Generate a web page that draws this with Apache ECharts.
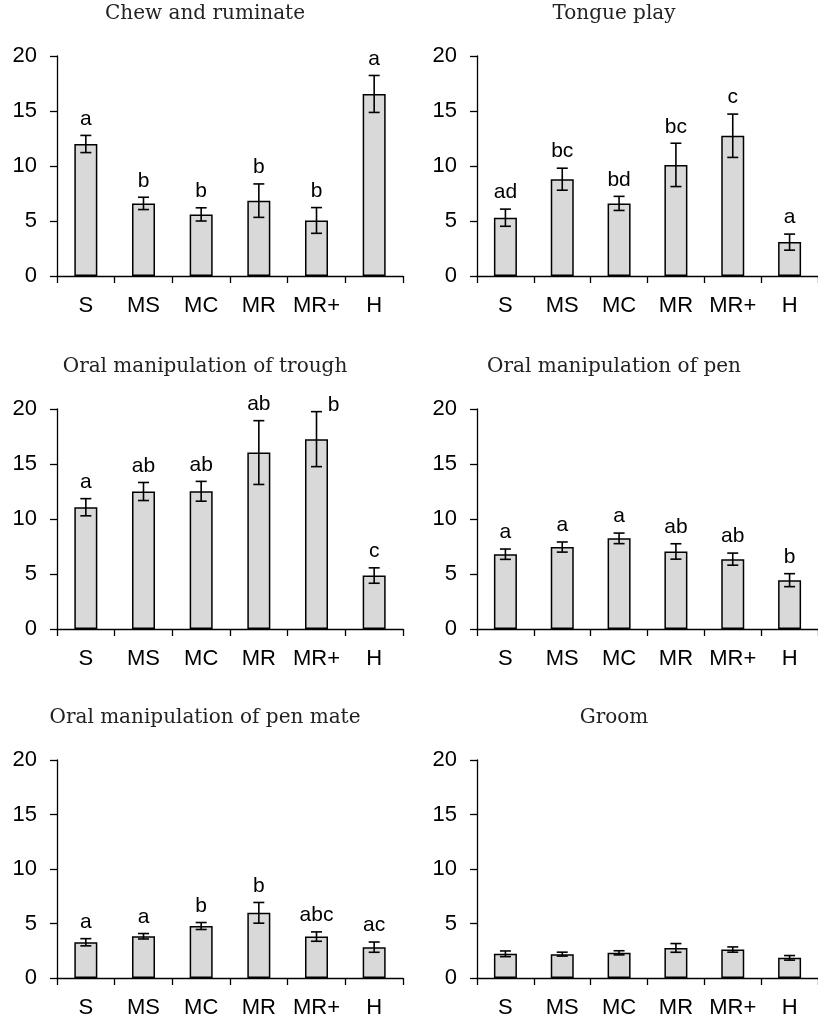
<!DOCTYPE html>
<html>
<head>
<meta charset="utf-8">
<script src="https://cdn.jsdelivr.net/npm/echarts@6/dist/echarts.min.js"></script>
<style>
html,body{margin:0;padding:0;background:#fff;}
#main{width:818px;height:1019px;}
</style>
</head>
<body>
<div id="main"></div>
<script>
// ---- data ----
var categories = ['S', 'MS', 'MC', 'MR', 'MR+', 'H'];
var yTicks = [0, 5, 10, 15, 20];

var titles = ['Chew and ruminate', 'Tongue play', 'Oral manipulation of trough',
              'Oral manipulation of pen', 'Oral manipulation of pen mate', 'Groom'];

var chewMean = [12.0, 6.6, 5.6, 6.85, 5.05, 16.55];
var chewErr = [0.78, 0.56, 0.6, 1.52, 1.17, 1.68];
var chewLetters = ['a', 'b', 'b', 'b', 'b', 'a'];

var tongueMean = [5.3, 8.8, 6.6, 10.1, 12.75, 3.08];
var tongueErr = [0.78, 1.0, 0.64, 1.97, 1.97, 0.73];
var tongueLetters = ['ad', 'bc', 'bd', 'bc', 'c', 'a'];

var troughMean = [11.07, 12.5, 12.52, 16.04, 17.26, 4.86];
var troughErr = [0.78, 0.82, 0.9, 2.9, 2.5, 0.7];
var troughLetters = ['a', 'ab', 'ab', 'ab', 'b', 'c'];

var penMean = [6.8, 7.45, 8.24, 7.05, 6.35, 4.44];
var penErr = [0.47, 0.46, 0.48, 0.7, 0.55, 0.59];
var penLetters = ['a', 'a', 'a', 'ab', 'ab', 'b'];

var mateMean = [3.28, 3.83, 4.77, 5.98, 3.8, 2.83];
var mateErr = [0.33, 0.25, 0.32, 0.95, 0.43, 0.47];
var mateLetters = ['a', 'a', 'b', 'b', 'abc', 'ac'];

var groomMean = [2.22, 2.19, 2.31, 2.76, 2.61, 1.85];
var groomErr = [0.26, 0.18, 0.19, 0.4, 0.24, 0.21];
var groomLetters = ['', '', '', '', '', ''];

var panels = [
  {mean: chewMean, err: chewErr, letters: chewLetters},
  {mean: tongueMean, err: tongueErr, letters: tongueLetters},
  {mean: troughMean, err: troughErr, letters: troughLetters},
  {mean: penMean, err: penErr, letters: penLetters},
  {mean: mateMean, err: mateErr, letters: mateLetters},
  {mean: groomMean, err: groomErr, letters: groomLetters}
];

// ---- layout ----
var colLeft = [57, 477];
var colTitleX = [205, 614];
var rowTop = [56, 409, 760];
var gridW = 346, gridH = 220;
var SANS = '"Liberation Sans", Arial, sans-serif';
var SERIF = '"DejaVu Serif", serif';

var chart = echarts.init(document.getElementById('main'), null, {renderer: 'canvas'});

var grids = [], xAxes = [], yAxes = [], series = [], titleOpts = [];

panels.forEach(function (p, k) {
  var col = k % 2, row = Math.floor(k / 2);
  grids.push({left: colLeft[col], top: rowTop[row], width: gridW, height: gridH});
  titleOpts.push({
    text: titles[k], left: colTitleX[col], top: rowTop[row] - 52, textAlign: 'center', padding: 0,
    textStyle: {fontFamily: SERIF, fontSize: 20, fontWeight: 'normal', color: '#222'}
  });
  xAxes.push({
    type: 'category', gridIndex: k, data: categories,
    axisLine: {show: true, lineStyle: {color: '#000', width: 1.3}},
    axisTick: {show: true, interval: 0, length: 7, alignWithLabel: false, lineStyle: {color: '#000', width: 1.3}},
    axisLabel: {interval: 0, margin: 19, color: '#000', fontFamily: SANS, fontSize: 22},
    splitLine: {show: false}
  });
  yAxes.push({
    type: 'value', gridIndex: k, min: 0, max: 20, interval: 5,
    axisLine: {show: true, lineStyle: {color: '#000', width: 1.3}},
    axisTick: {show: true, length: 7, lineStyle: {color: '#000', width: 1.3}},
    axisLabel: {margin: 20, color: '#000', fontFamily: SANS, fontSize: 22,
      formatter: function (v) { return yTicks.indexOf(v) >= 0 ? String(v) : ''; }},
    splitLine: {show: false}
  });
  series.push({
    type: 'bar', xAxisIndex: k, yAxisIndex: k, data: p.mean, barWidth: 23, z: 2,
    itemStyle: {color: '#d9d9d9', borderColor: '#000', borderWidth: 1.5},
    silent: true, animation: false
  });
  var errData = p.mean.map(function (m, i) { return [i, m, p.err[i], p.letters[i]]; });
  series.push({
    type: 'custom', xAxisIndex: k, yAxisIndex: k, data: errData, animation: false, silent: true, z: 5,
    renderItem: function (params, api) {
      var i = api.value(0), m = api.value(1), e = api.value(2);
      var letter = errData[params.dataIndex][3];
      var top = api.coord([i, m + e]);
      var bot = api.coord([i, m - e]);
      var x = top[0], hw = 5.5;
      var st = {stroke: '#000', lineWidth: 1.6};
      var children = [
        {type: 'line', shape: {x1: x, y1: top[1], x2: x, y2: bot[1]}, style: st},
        {type: 'line', shape: {x1: x - hw, y1: top[1], x2: x + hw, y2: top[1]}, style: st},
        {type: 'line', shape: {x1: x - hw, y1: bot[1], x2: x + hw, y2: bot[1]}, style: st}
      ];
      if (letter) {
        var beside = (m + e) > 19.5;
        children.push({
          type: 'text',
          x: beside ? x + 17 : x,
          y: beside ? top[1] + 4 : top[1] - 6,
          style: {text: letter, fill: '#000', font: '21px ' + SANS,
                  textAlign: 'center', textVerticalAlign: 'bottom'}
        });
      }
      return {type: 'group', children: children};
    }
  });
});

chart.setOption({
  animation: false,
  backgroundColor: '#fff',
  title: titleOpts,
  grid: grids,
  xAxis: xAxes,
  yAxis: yAxes,
  series: series
});
</script>
</body>
</html>
